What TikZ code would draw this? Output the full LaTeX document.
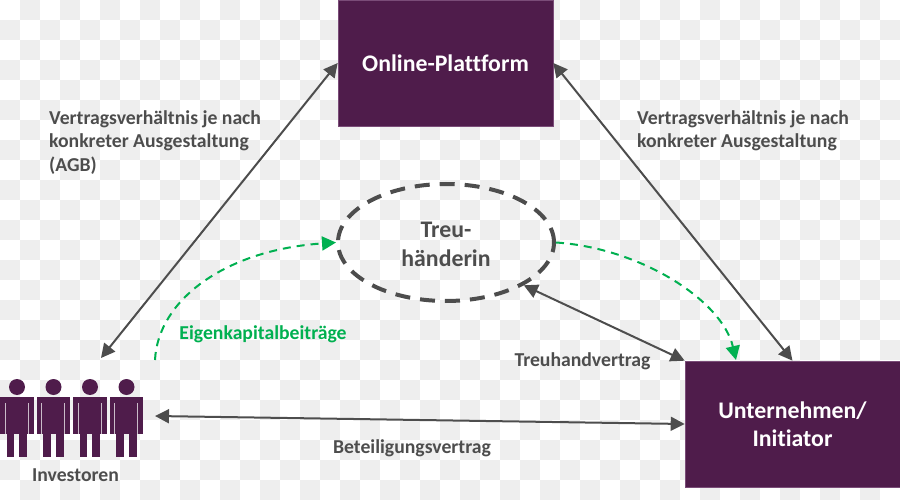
\documentclass[tikz,border=0pt]{standalone}
\usepackage{fontspec}
\setmainfont{Carlito}[BoldFont={Carlito Bold},Ligatures=NoCommon]
\usetikzlibrary{arrows.meta,shapes.geometric}
\definecolor{plum}{HTML}{4F1C4B}
\definecolor{plumedge}{HTML}{7A4C78}
\definecolor{ink}{HTML}{4D4D4D}
\definecolor{leaf}{HTML}{00B050}
\definecolor{tile}{HTML}{EEEEEE}
\newcommand{\labelfont}{\fontsize{19.7pt}{23.7pt}\selectfont\bfseries}
\newcommand{\boxfont}{\fontsize{23.8pt}{28pt}\selectfont\bfseries}
\tikzset{
  x=1pt, y=-1pt,
  partybox/.style={rectangle, draw=plumedge, line width=0.6pt, fill=plum, text=white,
    minimum width=215pt, minimum height=126pt, inner sep=0pt, align=center, font=\boxfont},
  trustee/.style={ellipse, draw=ink, line width=4pt, dash pattern=on 15pt off 10pt,
    minimum width=216pt, minimum height=117pt, inner sep=0pt},
  trusteename/.style={inner sep=0pt, align=center, text=ink,
    font=\fontsize{23.8pt}{29pt}\selectfont\bfseries},
  note/.style={text=ink, font=\labelfont, inner sep=0pt, align=left},
  contract/.style={draw=ink, line width=2pt, {Triangle[length=14pt,width=14pt]}-{Triangle[length=14pt,width=14pt]}, shorten <=0pt, shorten >=0pt},
  money/.style={draw=leaf, line width=2pt, dash pattern=on 8pt off 6pt, -{Triangle[length=14pt,width=14pt,fill=leaf]}},
  person/.pic={
    \fill[plum] (17,387) circle (8);
    \fill[plum] (0,396.5) rectangle (33.5,434);
    \fill[plum] (6.8,434) rectangle (14.2,456.5);
    \fill[plum] (19.3,434) rectangle (27,456.5);
    \draw[white!70!plum, line width=0.8pt] (5.2,403) -- (5.2,434);
    \draw[white!70!plum, line width=0.8pt] (28.2,403) -- (28.2,434);
  },
}
\begin{document}
\begin{tikzpicture}
\useasboundingbox (0,0) rectangle (900,500);
% tiled backdrop
\foreach \i in {0,...,44}{
  \foreach \j in {0,...,24}{
    \ifodd\numexpr\i+\j\relax
      \fill[tile] (20*\i,20*\j) rectangle ++(20,20);
    \fi
  }
}
% parties
\node[partybox] (online) at (445.5,63) {Online-Plattform};
\node[partybox] (firm) at (792.5,424) {Unternehmen/\\[0pt]Initiator};
\node[trustee] (trust) at (446,242.5) {};
\node[trusteename] (trustname) at (446,244) {Treu-\\händerin};
% investors
\foreach \k in {0,1,2,3}{
  \pic at (36.5*\k,0) {person};
}
\node[note, anchor=base] (investors) at (75.5,481) {Investoren};
\coordinate (invtop) at (101,358);
\coordinate (invright) at (155,416);
\coordinate (invgreen) at (155,360);
% contracts
\draw[contract] (invtop) -- (online.west);
\draw[contract] (online.east) -- (firm.north);
\draw[contract] (trust.south east) -- (firm.north west);
\draw[contract] (invright) -- (firm.west);
% capital flows
\draw[money] (invgreen) .. controls (158,300) and (225,250) .. (trust.west);
\draw[money] (trust.east) .. controls (640,248) and (722,300) .. (736,360);
% labels
\node[note, anchor=north west] (lblleft) at (49,110) {Vertragsverhältnis je nach\\konkreter Ausgestaltung\\(AGB)};
\node[note, anchor=north west] (lblright) at (637,110) {Vertragsverhältnis je nach\\konkreter Ausgestaltung};
\node[note, text=leaf, anchor=base] (lblcap) at (263,339) {Eigenkapitalbeiträge};
\node[note, anchor=base] (lbltrust) at (582.5,366) {Treuhandvertrag};
\node[note, anchor=base] (lblstake) at (412,453) {Beteiligungsvertrag};
\end{tikzpicture}
\end{document}
